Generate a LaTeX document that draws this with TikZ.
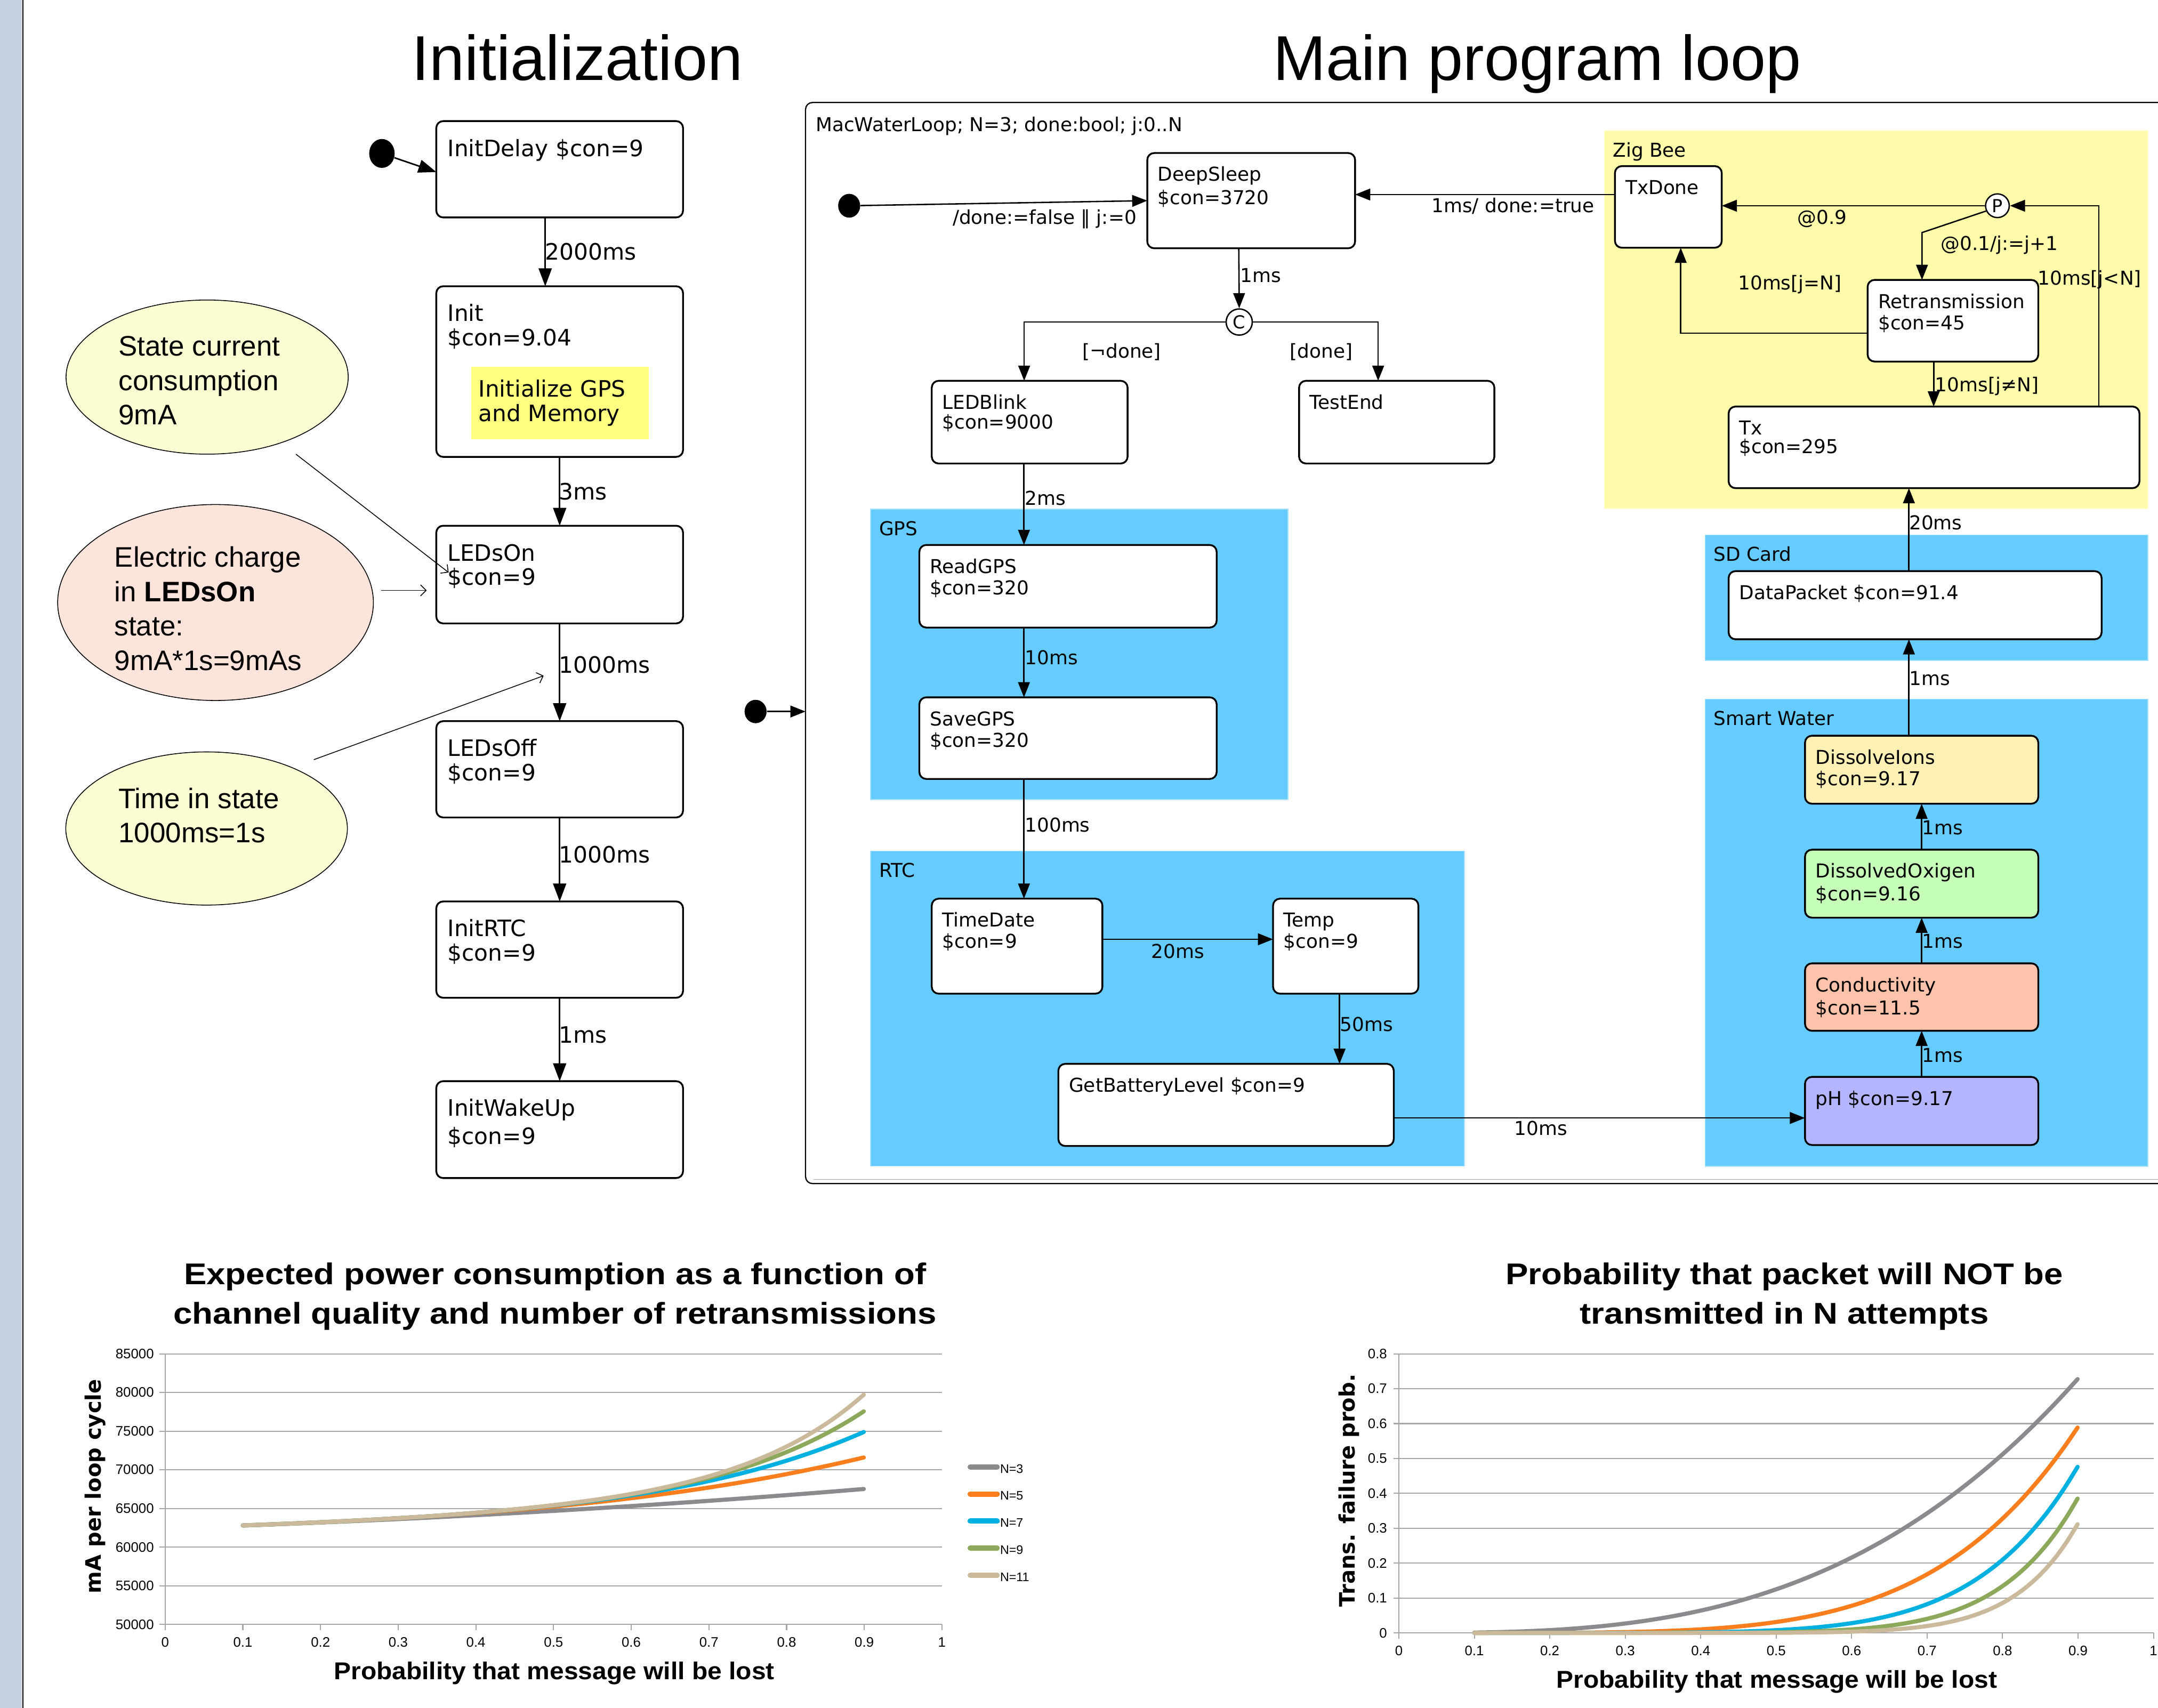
\documentclass[tikz,border=0pt]{standalone}
\usepackage{fontspec}
\usetikzlibrary{arrows.meta,shapes.geometric,calc}
\newfontfamily\dv{DejaVu Sans}
\newfontfamily\ar{Liberation Sans}
\newfontfamily\artitle{Liberation Sans}[FakeStretch=1.13]
\newfontfamily\araxis{Liberation Sans}[FakeStretch=1.05]
\definecolor{regblue}{HTML}{66CCFF}
\definecolor{zigy}{HTML}{FFFBAA}
\definecolor{gpsy}{HTML}{FFFF80}
\definecolor{ellY}{HTML}{FAFED2}
\definecolor{ellR}{HTML}{FDE4DA}
\definecolor{dicol}{HTML}{FFF0B5}
\definecolor{docol}{HTML}{C6FFB8}
\definecolor{cocol}{HTML}{FFC2AA}
\definecolor{phcol}{HTML}{B4B4FF}
\definecolor{barcol}{HTML}{C5D0E0}
\definecolor{gridc}{HTML}{A6A6A6}
\definecolor{cN3}{HTML}{8A8A8F}
\definecolor{cN5}{HTML}{FA7D1E}
\definecolor{cN7}{HTML}{00B0E0}
\definecolor{cN9}{HTML}{8CA85A}
\definecolor{cN11}{HTML}{CAB99B}
\tikzset{
 stbox/.style={draw=black, line width=1.3pt, rounded corners=5pt, inner sep=0, outer sep=0},
 regbox/.style={inner sep=0, outer sep=0, line width=0.6pt},
 mtxt/.style={font=\dv\fontsize{13.9}{15.5}\selectfont, inner sep=0},
 ltxt/.style={font=\dv\fontsize{16.4}{17.5}\selectfont, inner sep=0},
 arr/.style={draw, line width=1pt, -{Triangle[length=11pt,width=8.5pt]}},
 larr/.style={draw, line width=1.1pt, -{Triangle[length=13pt,width=9.5pt]}},
 notearr/.style={draw, line width=0.6pt, -{Straight Barb[length=4pt,width=8pt]}},
 startdot/.style={ellipse, fill=black, inner sep=0},
 choicept/.style={circle, draw, line width=1pt, fill=white, inner sep=0, minimum size=19pt, font=\dv\fontsize{13}{13}\selectfont},
 noteell/.style={ellipse, draw, line width=0.6pt, inner sep=0},
 etxt/.style={font=\ar\fontsize{20.5}{25}\selectfont, inner sep=0, anchor=base west},
 gridln/.style={draw=gridc, line width=0.8pt},
 tklab/.style={font=\ar\fontsize{10}{12}\selectfont, inner sep=0},
 plotln/.style={line width=3pt, line cap=round, line join=round},
}
\newcommand{\lstate}[6]{%
 \node[stbox, fill=white, minimum width={#4-#2}, minimum height={#5-#3}, anchor=north west] (#1) at (#2,#3) {};
 \node[ltxt, anchor=base west] (#1t) at ([xshift=8pt,yshift=-25.5pt]#1.north west) {\begin{tabular}[t]{@{}l@{}}#6\end{tabular}};
}
\newcommand{\mstate}[7][white]{%
 \node[stbox, fill=#1, minimum width={#5-#3}, minimum height={#6-#4}, anchor=north west] (#2) at (#3,#4) {};
 \node[mtxt, anchor=base west] (#2t) at ([xshift=7.5pt,yshift=-20.5pt]#2.north west) {\begin{tabular}[t]{@{}l@{}}#7\end{tabular}};
}
\newcommand{\regionbox}[7][regblue]{%
 \node[regbox, fill=#1, draw=#1!55!white, minimum width={#5-#3}, minimum height={#6-#4}, anchor=north west] (#2) at (#3,#4) {};
 \node[mtxt, anchor=base west] (#2t) at ([xshift=6pt,yshift=-19pt]#2.north west) {#7};
}
\begin{document}
\begin{tikzpicture}[x=1pt,y=-1pt]
\useasboundingbox (0,0) rectangle (1568,1241);
\clip (0,0) rectangle (1568,1241);
% left bar
\fill[barcol] (0,0) rectangle (16,1241);
\draw[line width=1pt] (16.6,0) -- (16.6,1241);

% titles
\node[font=\ar\fontsize{46}{50}\selectfont, anchor=base west, inner sep=0] (tinit) at (299.2,58.3) {Initialization};
\node[font=\ar\fontsize{46}{50}\selectfont, anchor=base west, inner sep=0] (tmain) at (925,58.3) {Main program loop};

% ================= Initialization column
\lstate{initdelay}{317}{88}{496.3}{158}{InitDelay \$con=9}
\lstate{init}{317}{208}{496.3}{332}{Init\\\$con=9.04}
\node[fill=gpsy, inner sep=0, minimum width=129, minimum height=52.5, anchor=north west] (initgps) at (342.2,266.3) {};
\node[font=\dv\fontsize{16.4}{18}\selectfont, inner sep=0, anchor=base west] (initgpst) at (347.5,288.2) {\begin{tabular}[t]{@{}l@{}}Initialize GPS\\and Memory\end{tabular}};
\lstate{ledson}{317}{382}{496.3}{453}{LEDsOn\\\$con=9}
\lstate{ledsoff}{317}{524}{496.3}{594}{LEDsOff\\\$con=9}
\lstate{initrtc}{317}{655}{496.3}{725}{InitRTC\\\$con=9}
\lstate{initwakeup}{317}{785.6}{496.3}{856}{InitWakeUp\\[2.5pt]\$con=9}

\node[startdot, minimum width=18.5pt, minimum height=21pt] (d1) at (277.5,111.5) {};
\draw[larr] (d1) -- ([yshift=-2pt]initdelay.west);
\draw[larr] ([xshift=-10.5pt]initdelay.south) -- ([xshift=-10.5pt]init.north);
\draw[larr] (init.south) -- (ledson.north);
\draw[larr] (ledson.south) -- (ledsoff.north);
\draw[larr] (ledsoff.south) -- (initrtc.north);
\draw[larr] (initrtc.south) -- (initwakeup.north);
\node[ltxt, anchor=base west] (li1) at (396,189) {2000ms};
\node[ltxt, anchor=base west] (li2) at (406,363) {3ms};
\node[ltxt, anchor=base west] (li3) at (406,489) {1000ms};
\node[ltxt, anchor=base west] (li4) at (406,627) {1000ms};
\node[ltxt, anchor=base west] (li5) at (406,758) {1ms};

% notes
\node[noteell, fill=ellY, minimum width=205, minimum height=112] (e1) at (150.5,274) {};
\node[etxt] (e1t) at (86,258.6) {\begin{tabular}[t]{@{}l@{}}State current\\consumption\\9mA\end{tabular}};
\node[noteell, fill=ellR, minimum width=229.4, minimum height=142.4] (e2) at (156.6,437.8) {};
\node[etxt] (e2t) at (83,412) {\begin{tabular}[t]{@{}l@{}}Electric charge\\in \textbf{LEDsOn}\\state:\\9mA*1s=9mAs\end{tabular}};
\node[noteell, fill=ellY, minimum width=204.6, minimum height=111.3] (e3) at (150.1,602) {};
\node[etxt] (e3t) at (86,587.3) {\begin{tabular}[t]{@{}l@{}}Time in state\\1000ms=1s\end{tabular}};
\coordinate (a1s) at (215,330);
\draw[notearr] (a1s) -- ([xshift=9pt,yshift=-34pt]ledson.north west);
\coordinate (a2s) at (277,429);
\draw[notearr] (a2s) -- ([xshift=-7pt,yshift=-11.5pt]ledson.west);
\coordinate (a3s) at (228,552);
\coordinate (a3e) at (395,491);
\draw[notearr] (a3s) -- (a3e);

% ================= Main loop frame
\draw[line width=0.9pt, rounded corners=5pt] (1580,74.5) -- (585.3,74.5) -- (585.3,860) -- (1580,860);
\draw[black!35, line width=0.5pt] (591,857) -- (1580,857);
\node[mtxt, anchor=base west] (framelab) at (592.5,95.5) {MacWaterLoop; N=3; done:bool; j:0..N};
\coordinate (framel) at (585.3,517);
\node[startdot, minimum width=16pt, minimum height=17pt] (d3) at (549,517) {};
\draw[arr] (d3) -- (framel);

% regions
\regionbox{gps}{632.6}{370}{935.9}{581}{GPS}
\regionbox{rtc}{632.6}{618.4}{1064}{847.4}{RTC}
\regionbox[zigy]{zigbee}{1165.7}{94.9}{1560.7}{369.5}{Zig Bee}
\regionbox{sdcard}{1239}{388.7}{1560.7}{480}{SD Card}
\regionbox{smartwater}{1239}{508}{1560.7}{847.5}{Smart Water}

% states
\mstate{ds}{833.6}{111.2}{984.6}{180.4}{DeepSleep\\[1.5pt]\$con=3720}
\mstate{ledblink}{677}{276.7}{819.3}{336.8}{LEDBlink\\[-1pt]\$con=9000}
\mstate{testend}{943.9}{276.7}{1085.8}{336.8}{TestEnd}
\mstate{readgps}{668}{396}{884}{456}{ReadGPS\\\$con=320}
\mstate{savegps}{668}{506.7}{884}{566}{SaveGPS\\\$con=320}
\mstate{timedate}{677}{653}{801}{722}{TimeDate\\\$con=9}
\mstate{temp}{925}{653}{1030.6}{722}{Temp\\\$con=9}
\mstate{gbl}{769}{773}{1012.7}{832.7}{GetBatteryLevel \$con=9}
\mstate{txdone}{1173.4}{120.7}{1251}{180}{TxDone}
\mstate{retrans}{1357}{203.4}{1481}{262.7}{Retransmission\\\$con=45}
\mstate{tx}{1256}{295.4}{1554.5}{354.7}{Tx\\[-2pt]\$con=295}
\mstate{datapacket}{1256}{415}{1527}{464.5}{DataPacket \$con=91.4}
\mstate[dicol]{dions}{1311.5}{534.6}{1481}{584}{DissolveIons\\\$con=9.17}
\mstate[docol]{doxi}{1311.5}{617.4}{1481}{666.8}{DissolvedOxigen\\[1pt]\$con=9.16}
\mstate[cocol]{cond}{1311.5}{700}{1481}{749}{Conductivity\\[1.5pt]\$con=11.5}
\mstate[phcol]{ph}{1311.5}{782.5}{1481}{832}{pH \$con=9.17}

\node[choicept] (C) at (900.4,234) {C};
\node[choicept, minimum size=17.2pt] (P) at (1451.3,149.5) {P};
\node[startdot, minimum width=16pt, minimum height=17.3pt] (d2) at (617,149.5) {};

% connectors main
\draw[arr] (d2) -- (ds.west);
\draw[arr] ([yshift=9pt]txdone.west) -- ([yshift=9pt]txdone.west -| ds.east);
\draw[arr] ([xshift=-9pt]ds.south) -- (C.north);
\draw[arr] (C.west) -| ([xshift=-4pt]ledblink.north);
\draw[arr] (C.east) -| ([xshift=-13.5pt]testend.north);
\coordinate (gx) at (744,0);
\draw[arr] (ledblink.south -| gx) -- (readgps.north -| gx);
\draw[arr] (readgps.south -| gx) -- (savegps.north -| gx);
\draw[arr] (savegps.south -| gx) -- (timedate.north -| gx);
\draw[arr] ([yshift=5pt]timedate.east) -- ([yshift=5pt]timedate.east -| temp.west);
\draw[arr] ([xshift=-4.5pt]temp.south) -- ([xshift=-4.5pt]temp.south |- gbl.north);
\draw[arr] ([yshift=-9.5pt]gbl.east) -- ([yshift=-9.5pt]gbl.east -| ph.west);
% zigbee
\draw[arr] (P.west) -- (P.west -| txdone.east);
\coordinate (pr1) at (1396.5,169);
\draw[arr] (P.205) -- (pr1) -- (pr1 |- retrans.north);
\draw[arr] ([yshift=-9pt]retrans.west) -| ([xshift=9pt]txdone.south);
\draw[arr] ([xshift=-14pt]retrans.south) -- ([xshift=-14pt]retrans.south |- tx.north);
\coordinate (txp) at (1525,149.5);
\draw[arr] (tx.north -| txp) -- (txp) -- (P.east);
\coordinate (dpx) at (1387,0);
\draw[arr] (datapacket.north -| dpx) -- (tx.south -| dpx);
\draw[arr] (dions.north -| dpx) -- (datapacket.south -| dpx);
\draw[arr] (doxi.north) -- (dions.south);
\draw[arr] (cond.north) -- (doxi.south);
\draw[arr] (ph.north) -- (cond.south);

% labels main
\node[mtxt, anchor=base east] (m1) at (826,163) {/done:=false ‖ j:=0};
\node[mtxt, anchor=base west] (m2) at (1040,154.5) {1ms/ done:=true};
\node[mtxt, anchor=base west] (m3) at (901,205) {1ms};
\node[mtxt, anchor=base] (m4) at (815,260) {[¬done]};
\node[mtxt, anchor=base] (m5) at (960,260) {[done]};
\node[mtxt, anchor=base west] (m6) at (744.5,367) {2ms};
\node[mtxt, anchor=base west] (m7) at (744.5,483) {10ms};
\node[mtxt, anchor=base west] (m8) at (744.5,604.5) {100ms};
\node[mtxt, anchor=base] (m9) at (855.7,696.4) {20ms};
\node[mtxt, anchor=base west] (m10) at (973.5,749.5) {50ms};
\node[mtxt, anchor=base] (m11) at (1119.6,824.7) {10ms};
\node[mtxt, anchor=base] (m12) at (1324,163) {@0.9};
\node[mtxt, anchor=base west] (m13) at (1410,182) {@0.1/j:=j+1};
\node[mtxt, anchor=base] (m14) at (1300.5,210.4) {10ms[j=N]};
\node[mtxt, anchor=base west] (m15) at (1405.8,284.6) {10ms[j≠N]};
\node[mtxt, anchor=base west] (m16) at (1480.5,207) {10ms[j<N]};
\node[mtxt, anchor=base west] (m17) at (1387,385) {20ms};
\node[mtxt, anchor=base west] (m18) at (1387,498) {1ms};
\node[mtxt, anchor=base west] (m19) at (1396.5,606.4) {1ms};
\node[mtxt, anchor=base west] (m20) at (1396.5,688.8) {1ms};
\node[mtxt, anchor=base west] (m21) at (1396.5,771.6) {1ms};

% ================= Chart 1
\node[font=\artitle\bfseries\fontsize{21.8}{28.6}\selectfont, anchor=base, inner sep=0] (c1title) at (403.3,933.3) {\begin{tabular}[t]{@{}c@{}}Expected power consumption as a function of\\channel quality and number of retransmissions\end{tabular}};
\foreach \i/\lab in {0/50000,1/55000,2/60000,3/65000,4/70000,5/75000,6/80000,7/85000}{
  \pgfmathsetmacro\yy{1180.3-28.086*\i}
  \ifnum\i>0 \draw[gridln] (120,\yy) -- (684.4,\yy); \fi
  \draw[gridln] (116,\yy) -- (120,\yy);
  \node[tklab, anchor=east] (c1y\i) at (112,\yy) {\lab};
}
\foreach \i/\lab in {0/0,1/0.1,2/0.2,3/0.3,4/0.4,5/0.5,6/0.6,7/0.7,8/0.8,9/0.9,10/1}{
  \pgfmathsetmacro\xx{120+56.44*\i}
  \draw[gridln] (\xx,1180.3) -- (\xx,1184.5);
  \node[tklab] (c1x\i) at (\xx,1193.2) {\lab};
}
\draw[gridln] (120,983.7) -- (120,1180.3) -- (684.4,1180.3);
\foreach \N/\c in {3/cN3,5/cN5,7/cN7,9/cN9,11/cN11}{
  \draw[plotln, \c] plot[domain=0.1:0.9, samples=60, smooth] ({120+564.4*\x}, {1180.3-5.617*(9.522+2.95*(1-(\x)^\N)/(1-\x))});
}
\foreach \i/\N/\c in {0/3/cN3,1/5/cN5,2/7/cN7,3/9/cN9,4/11/cN11}{
  \pgfmathsetmacro\yy{1067.2+19.68*\i}
  \draw[\c, line width=3.9pt, line cap=round] (705,\yy-1.3) -- (724.5,\yy-1.3);
  \node[tklab, font=\ar\fontsize{9}{11}\selectfont, anchor=west] (lg\i) at (726.5,\yy) {N=\N};
}
\node[font=\araxis\bfseries\fontsize{17.7}{20}\selectfont, anchor=base, inner sep=0] (c1xt) at (402.7,1220.4) {Probability that message will be lost};
\node[font=\dv\bfseries\fontsize{15.5}{18}\selectfont, rotate=90, inner sep=0] (c1yt) at (69,1080) {mA per loop cycle};

% ================= Chart 2
\node[font=\artitle\bfseries\fontsize{21.8}{28.6}\selectfont, anchor=base, inner sep=0] (c2title) at (1296.5,933.3) {\begin{tabular}[t]{@{}c@{}}Probability that packet will NOT be\\transmitted in N attempts\end{tabular}};
\foreach \i/\lab in {0/0,1/0.1,2/0.2,3/0.3,4/0.4,5/0.5,6/0.6,7/0.7,8/0.8}{
  \pgfmathsetmacro\yy{1186.5-25.35*\i}
  \ifnum\i>0 \draw[gridln] (1016.4,\yy) -- (1564.7,\yy); \fi
  \draw[gridln] (1012.4,\yy) -- (1016.4,\yy);
  \node[tklab, anchor=east] (c2y\i) at (1008,\yy) {\lab};
}
\foreach \i/\lab in {0/0,1/0.1,2/0.2,3/0.3,4/0.4,5/0.5,6/0.6,7/0.7,8/0.8,9/0.9,10/1}{
  \pgfmathsetmacro\xx{1016.4+54.83*\i}
  \draw[gridln] (\xx,1186.5) -- (\xx,1190.7);
  \node[tklab] (c2x\i) at (\xx,1199.5) {\lab};
}
\draw[gridln] (1016.4,983.7) -- (1016.4,1186.5) -- (1564.7,1186.5);
\foreach \N/\c in {3/cN3,5/cN5,7/cN7,9/cN9,11/cN11}{
  \draw[plotln, \c] plot[domain=0.1:0.9, samples=60, smooth] ({1016.4+548.3*\x}, {1186.5-253.5*(\x)^\N});
}
\node[font=\araxis\bfseries\fontsize{17.7}{20}\selectfont, anchor=base, inner sep=0] (c2xt) at (1291,1226.7) {Probability that message will be lost};
\node[font=\dv\bfseries\fontsize{15.5}{18}\selectfont, rotate=90, inner sep=0] (c2yt) at (980.3,1083) {Trans. failure prob.};
\end{tikzpicture}
\end{document}
